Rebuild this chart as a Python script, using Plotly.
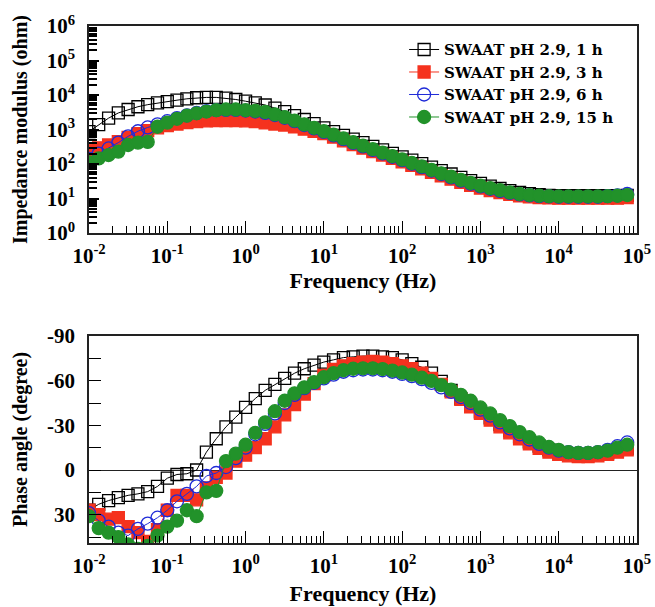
import plotly.graph_objects as go

# ---------------- data ----------------
freq_hz = [0.01, 0.0133, 0.0178, 0.0237, 0.0316, 0.0422, 0.0562, 0.0750,
           0.1, 0.133, 0.178, 0.237, 0.316, 0.422, 0.562, 0.750,
           1, 1.33, 1.78, 2.37, 3.16, 4.22, 5.62, 7.50,
           10, 13.3, 17.8, 23.7, 31.6, 42.2, 56.2, 75.0,
           100, 133, 178, 237, 316, 422, 562, 750,
           1000, 1334, 1778, 2371, 3162, 4217, 5623, 7499,
           10000, 13335, 17783, 23714, 31623, 42170, 56234, 74989]

series_names = ["SWAAT pH 2.9, 1 h", "SWAAT pH 2.9, 3 h",
                "SWAAT pH 2.9, 6 h", "SWAAT pH 2.9, 15 h"]

zmod_1h = [871, 1380, 2138, 3020, 3802, 4571, 5248, 5888, 6457, 7079,
           7762, 8318, 8511, 8511, 8128, 7413, 6607, 5888, 5129, 4169,
           3311, 2512, 1950, 1479, 1122, 871, 676, 525, 417, 324,
           257, 204, 162, 129, 102, 81, 64.6, 51.3, 40.7, 33.1,
           27.5, 22.9, 19.5, 17.0, 15.1, 13.8, 12.9, 12.3,
           12.0, 12.0, 12.0, 12.0, 12.0, 12.0, 12.0, 12.3]
zmod_3h = [251, 295, 355, 447, 589, 759, 933, 1122, 1288, 1445,
           1585, 1698, 1778, 1820, 1820, 1820, 1778, 1698, 1549, 1445,
           1349, 1202, 1023, 891, 759, 603, 468, 363, 288, 229,
           182, 145, 115, 91, 72, 57.5, 45.7, 36.3, 29.5, 24.0,
           20.0, 17.0, 14.8, 13.2, 12.0, 11.2, 10.7, 10.5,
           10.2, 10.2, 10.2, 10.2, 10.2, 10.2, 10.2, 10.7]
zmod_6h = [141, 200, 282, 417, 631, 891, 1148, 1413, 1738, 2138,
           2570, 3020, 3388, 3631, 3715, 3715, 3548, 3311, 3020, 2630,
           2188, 1738, 1349, 1072, 851, 676, 525, 407, 324, 257,
           204, 162, 129, 102, 81, 64.6, 51.3, 40.7, 33.1, 26.9,
           22.4, 19.1, 16.6, 14.5, 13.2, 12.3, 11.7, 11.5,
           11.2, 11.2, 11.2, 11.2, 11.2, 11.7, 12.3, 13.5]
zmod_15h = [112, 145, 182, 229, 355, 417, 437, 1202, 1585, 2042,
            2512, 2951, 3311, 3631, 3802, 3802, 3631, 3467, 3236, 2754,
            2291, 1820, 1413, 1122, 891, 708, 550, 427, 339, 269,
            214, 170, 135, 107, 85, 67.6, 53.7, 42.7, 34.7, 28.2,
            23.4, 20.0, 17.4, 15.1, 13.5, 12.6, 12.0, 11.7,
            11.5, 11.5, 11.5, 11.5, 11.5, 11.7, 12.0, 12.6]

phase_1h = [27, 23, 20.5, 18.5, 17, 16, 14.5, 11, 5.5, 3,
            2.5, 0, -12, -21, -29, -35.5, -42, -48, -53.5, -57.5,
            -61.5, -65, -68, -70.5, -72.5, -74, -75.5, -76, -76.5, -76.5,
            -76, -75.5, -74, -71.5, -69, -65, -59.5, -53.5, -48, -43.5,
            -39, -35, -30.5, -26.5, -22.5, -19, -16, -13.5,
            -11.5, -10.5, -10, -10, -10.5, -11.5, -13, -14.5]
phase_3h = [27, 30, 33, 32, 38, 42, 48, 40, 27, 17,
            17, 20, 12, 5, 2, -6, -10, -15, -21, -29,
            -37, -44, -51, -58, -63.5, -67.5, -70, -71.5, -72.5, -73,
            -72.5, -71.5, -70, -68, -65, -61.5, -57.5, -52.5, -47.5, -42.5,
            -38, -33.5, -29, -25, -21, -17.5, -14.5, -12,
            -10.5, -9.5, -9, -9, -9.5, -10.5, -12, -13.5]
phase_6h = [29, 34, 38, 42, 44, 39.5, 36, 32, 27, 21,
            16, 11, 4, 2, -2, -8, -15, -24, -31, -38,
            -45, -50.5, -55, -58.5, -61.5, -64, -66, -67, -67.5, -67.5,
            -67, -66, -64.5, -63, -61, -58.5, -55.5, -52.5, -49, -45,
            -40.5, -36.5, -32, -28, -24, -20.5, -17.5, -15,
            -13, -12, -11.5, -11.5, -12, -13.5, -16, -18.5]
phase_15h = [31, 39, 42, 45, 50, 53, 51, 44, 38, 34,
             27, 31, 15, 14, -6, -11, -17, -25, -32, -39.5,
             -46.5, -51.5, -55.5, -59, -62.3, -65, -67, -68, -68.3, -68.3,
             -67.8, -66.8, -65.5, -64, -62, -59.8, -57, -54, -50.5, -46.5,
             -42, -38, -33.5, -29.5, -25.5, -22, -18.5, -15.5,
             -13.5, -12, -11.5, -11.5, -12, -13, -15, -17]

x_tick_vals = [0.01, 0.1, 1, 10, 100, 1000, 10000, 100000]
x_tick_text = ["10<sup>-2</sup>", "10<sup>-1</sup>", "10<sup>0</sup>", "10<sup>1</sup>",
               "10<sup>2</sup>", "10<sup>3</sup>", "10<sup>4</sup>", "10<sup>5</sup>"]
y_tick_vals = [1, 10, 100, 1000, 10000, 100000, 1000000]
y_tick_text = ["10<sup>0</sup>", "10<sup>1</sup>", "10<sup>2</sup>", "10<sup>3</sup>",
               "10<sup>4</sup>", "10<sup>5</sup>", "10<sup>6</sup>"]
phase_tick_vals = [-90, -60, -30, 0, 30]
phase_tick_text = ["-90", "-60", "-30", "0", "30"]

# ---------------- styles ----------------
styles = [
    dict(color="#000000", symbol="square-open", size=12),
    dict(color="#f5321e", symbol="square", size=12),
    dict(color="#1f2bd8", symbol="circle-open", size=13),
    dict(color="#22922a", symbol="circle", size=13),
]
zmods = [zmod_1h, zmod_3h, zmod_6h, zmod_15h]
phases = [phase_1h, phase_3h, phase_6h, phase_15h]

FONT = "Liberation Serif"

fig = go.Figure()
for name, st, zm in zip(series_names, styles, zmods):
    marker = dict(symbol=st["symbol"], size=st["size"], color=st["color"],
                  line=dict(color=st["color"], width=1.3))
    fig.add_trace(go.Scatter(x=freq_hz, y=zm, name=name, mode="lines+markers",
                             line=dict(color=st["color"], width=1),
                             marker=marker, xaxis="x", yaxis="y",
                             showlegend=True))
for name, st, ph in zip(series_names, styles, phases):
    marker = dict(symbol=st["symbol"], size=st["size"], color=st["color"],
                  line=dict(color=st["color"], width=1.3))
    fig.add_trace(go.Scatter(x=freq_hz, y=ph, name=name, mode="lines+markers",
                             line=dict(color=st["color"], width=1),
                             marker=marker, xaxis="x2", yaxis="y2",
                             showlegend=False))

minor_log_x = [m * 10 ** e for e in range(-2, 5) for m in range(2, 10)]
minor_log_y = [m * 10 ** e for e in range(0, 6) for m in range(2, 10)]

tickfont = dict(family=FONT, size=21, color="black", weight="bold")
xtitlefont = dict(family=FONT, size=22, color="black", weight="bold")
ytitlefont = dict(family=FONT, size=20, color="black", weight="bold")

xcommon = dict(type="log", range=[-2, 5], tickmode="array",
               tickvals=x_tick_vals, ticktext=x_tick_text,
               ticks="inside", ticklen=12, tickwidth=1.3, tickcolor="black",
               showline=True, linecolor="#222", linewidth=1.6, mirror=True,
               showgrid=False, zeroline=False, tickfont=tickfont,
               ticklabeloverflow="allow", ticklabelstandoff=3, automargin=False,
               minor=dict(tickmode="array", tickvals=minor_log_x, ticks="inside",
                          ticklen=7, tickwidth=1.1, tickcolor="black", showgrid=False))

layout = dict(
    width=655, height=607,
    margin=dict(l=89, r=18, t=26, b=64),
    paper_bgcolor="white", plot_bgcolor="white",
    font=dict(family=FONT, color="black"),
    xaxis=dict(**xcommon, anchor="y", domain=[0, 1],
               title=dict(text="Frequency (Hz)", font=xtitlefont, standoff=4)),
    xaxis2=dict(**xcommon, anchor="y2", domain=[0, 1],
                title=dict(text="Frequency (Hz)", font=xtitlefont, standoff=9)),
    yaxis=dict(type="log", range=[0, 6], domain=[0.5996, 1], anchor="x",
               tickmode="array", tickvals=y_tick_vals, ticktext=y_tick_text,
               ticks="inside", ticklen=10, tickwidth=1.5, tickcolor="black",
               showline=True, linecolor="#222", linewidth=1.6, mirror=True,
               showgrid=False, zeroline=False, tickfont=tickfont,
               ticklabelstandoff=8, automargin=False,
               minor=dict(tickmode="array", tickvals=minor_log_y, ticks="inside",
                          ticklen=8, tickwidth=1.5, tickcolor="black", showgrid=False),
               title=dict(text="Impedance modulus (ohm)", font=ytitlefont, standoff=14)),
    yaxis2=dict(range=[49, -90], domain=[0, 0.4004], anchor="x2",
                tickmode="array", tickvals=phase_tick_vals, ticktext=phase_tick_text,
                ticks="inside", ticklen=12, tickwidth=1.3, tickcolor="black",
                showline=True, linecolor="#222", linewidth=1.6, mirror=True,
                showgrid=False, zeroline=True, zerolinecolor="#222", zerolinewidth=1.3,
                tickfont=tickfont, ticklabelstandoff=8, automargin=False,
                minor=dict(tickmode="array", tickvals=[-75, -45, -15, 15, 45], ticks="inside",
                           ticklen=12, tickwidth=1.3, tickcolor="black", showgrid=False),
                title=dict(text="Phase angle (degree)", font=ytitlefont, standoff=14)),
    legend=dict(x=0.575, y=0.986, xanchor="left", yanchor="top",
                bgcolor="rgba(0,0,0,0)", borderwidth=0,
                font=dict(family="DejaVu Serif", size=15, color="black", weight="bold"),
                tracegroupgap=0, itemwidth=30),
    showlegend=True,
)
fig.update_layout(**layout)

fig.write_html("out.html", config={"displayModeBar": False},
               post_script="document.body.style.margin='0px';")
